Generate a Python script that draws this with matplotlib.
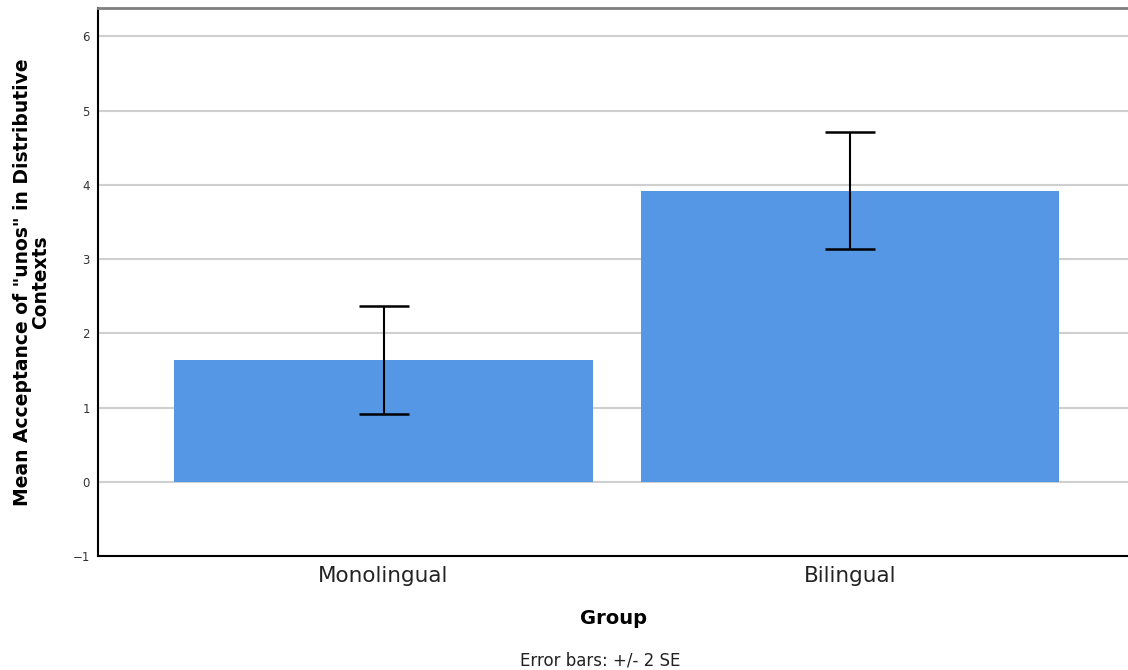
import matplotlib
matplotlib.use("Agg")
import matplotlib.pyplot as plt

groups = ["Monolingual", "Bilingual"]
means = [1.64, 3.92]
two_se = [0.73, 0.785]

fig = plt.figure(figsize=(11.28, 6.70), dpi=100)
ax = fig.add_axes([0.0869, 0.1701, 0.9131, 0.8179])

x = range(len(groups))
ax.bar(x, means, width=0.898, color="#5596e5", zorder=2)
ax.errorbar(x, means, yerr=two_se, fmt="none", ecolor="black",
            elinewidth=1.5, capsize=18, capthick=1.8, zorder=3)

ax.set_xlim(-0.612, 1.596)
ax.set_ylim(-1, 6.38)
ax.set_yticks(range(-1, 7))
ax.yaxis.grid(True, color="#cfcfcf", linewidth=1.5, zorder=0)
ax.set_axisbelow(True)

ax.set_xticks(list(x))
ax.set_xticklabels(groups, fontsize=15.5, color="#222222")
ax.tick_params(axis="x", length=0, pad=7)
ax.tick_params(axis="y", length=0, labelsize=8.5, labelcolor="#333333", pad=6)

ax.spines["right"].set_visible(False)
ax.spines["top"].set_color("#808080")
ax.spines["top"].set_linewidth(2)
ax.spines["left"].set_linewidth(1.5)
ax.spines["bottom"].set_linewidth(1.5)

ax.set_ylabel('Mean Acceptance of "unos" in Distributive\nContexts',
              fontsize=13.5, fontweight="bold", labelpad=16,
              linespacing=0.92)
ax.set_xlabel("Group", fontsize=14, fontweight="bold", labelpad=17)
fig.text(0.5325, 0.007, "Error bars: +/- 2 SE", ha="center", fontsize=12,
         color="#222222")

plt.savefig("out.png", dpi=100)
